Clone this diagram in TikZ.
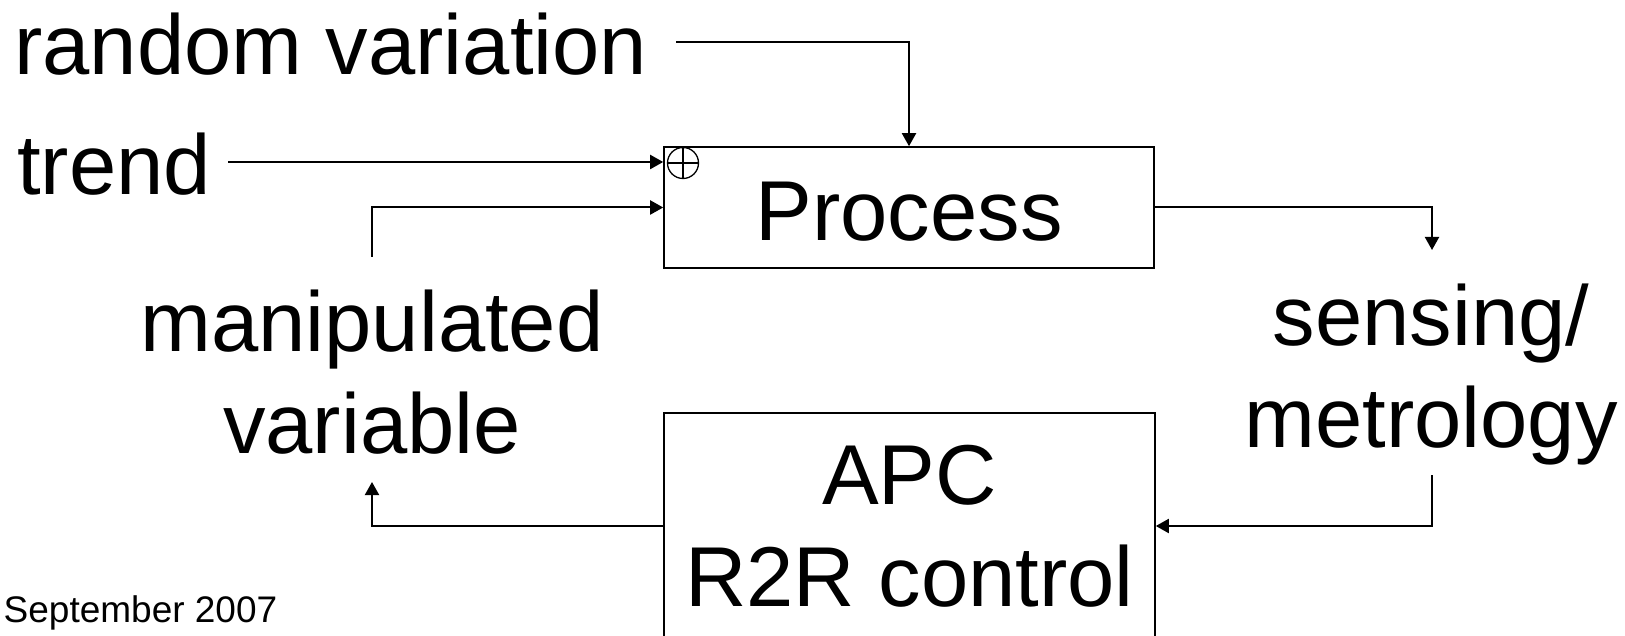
\documentclass[tikz,border=0pt]{standalone}
\usepackage{fontspec}
\setmainfont{Liberation Sans}
\usetikzlibrary{arrows.meta}
\begin{document}
\begin{tikzpicture}[x=1pt,y=-1pt,
  big/.style={font=\fontsize{85}{102}\selectfont, inner sep=0pt, align=center},
  block/.style={draw, line width=1.6pt, inner sep=0pt, big},
  flow/.style={line width=2pt, -{Triangle[length=13pt,width=14pt]}}]
\useasboundingbox (0,0) rectangle (1625,636);
\clip (0,0) rectangle (1625,636);
\fill[white] (0,0) rectangle (1625,636);

% blocks
\node[block, minimum width=490pt, minimum height=121pt, text height=66pt, text depth=0pt] (proc) at (909,207.5) {Process};
\node[block, minimum width=491pt, minimum height=226pt] (apc) at (909.5,526) {APC\\R2R control};

% labels
\node[big, anchor=base west] (rv) at (14,75) {random variation};
\node[big, anchor=base west] (trend) at (17,195) {trend};
\node[big] (mv) at (372,372) {manipulated\\variable};
\node[big] (sm) at (1431,375) {sensing/\\metrology};
\node[font=\fontsize{37}{44}\selectfont, inner sep=0pt, anchor=base west] (date) at (3.5,622) {September 2007};

% summing junction
\node[circle, draw, line width=1.3pt, minimum size=31pt, inner sep=0pt] (sum) at (683,163) {};
\draw[line width=1.3pt] (sum.north) -- (sum.south) (sum.west) -- (sum.east);

% free ends of the connectors
\coordinate (rvout) at (676,42);
\coordinate (trendout) at (228,162);
\coordinate (mvup) at (372,257);
\coordinate (mvdown) at (372,482);
\coordinate (smup) at (1432,250);
\coordinate (smdown) at (1432,475);

% connectors
\draw[flow] (rvout) -| (proc.north);
\draw[flow] (trendout) -- (trendout -| proc.west);
\draw[flow] (mvup) |- (proc.west);
\draw[flow] (proc.east) -| (smup);
\draw[flow] (smdown) |- (apc.east);
\draw[flow] (apc.west) -| (mvdown);
\end{tikzpicture}
\end{document}
